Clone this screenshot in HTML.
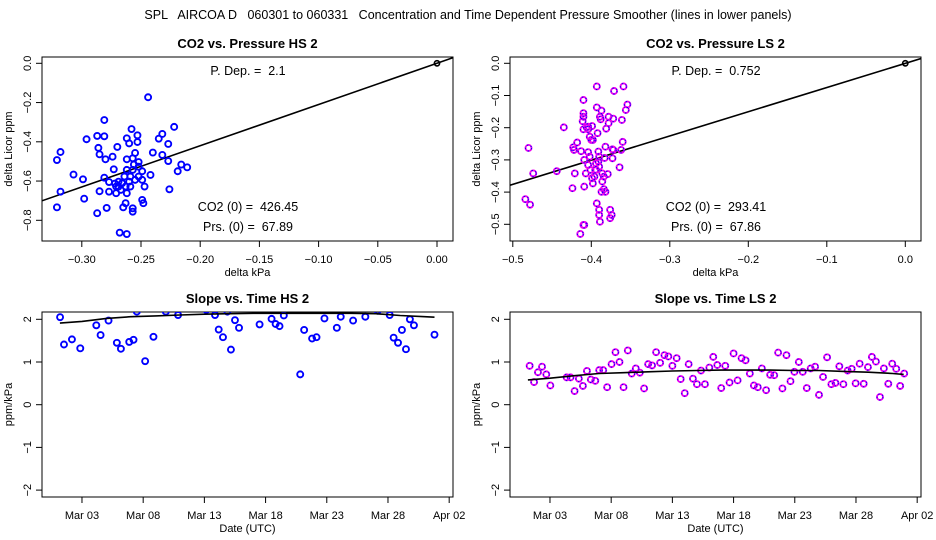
<!DOCTYPE html>
<html><head><meta charset="utf-8"><style>
html,body{margin:0;padding:0;background:#fff}
svg{display:block;font-family:"Liberation Sans",sans-serif}
text{white-space:pre}
</style></head><body>
<svg id="c" width="936" height="540" viewBox="0 0 936 540">
<text x="468" y="19" text-anchor="middle" font-size="12.5" xml:space="preserve">SPL   AIRCOA D   060301 to 060331   Concentration and Time Dependent Pressure Smoother (lines in lower panels)</text>
</svg>
<script>
// ---- data ----
const hsPressX=[-0.321,-0.318,-0.321,-0.318,-0.307,-0.299,-0.298,-0.296,-0.287,-0.286,-0.285,-0.285,-0.287,-0.281,-0.281,-0.280,-0.281,-0.279,-0.277,-0.277,-0.274,-0.273,-0.270,-0.272,-0.271,-0.269,-0.268,-0.262,-0.263,-0.265,-0.262,-0.262,-0.260,-0.258,-0.257,-0.256,-0.255,-0.253,-0.253,-0.252,-0.252,-0.249,-0.249,-0.257,-0.257,-0.248,-0.247,-0.244,-0.240,-0.242,-0.235,-0.232,-0.232,-0.227,-0.227,-0.226,-0.222,-0.219,-0.216,-0.211,-0.263,-0.260,-0.266,-0.269,-0.259,-0.255,-0.264,-0.262,-0.252,-0.259,-0.267,-0.262,-0.271,-0.257,-0.249];
const hsPressY=[-0.493,-0.452,-0.734,-0.654,-0.567,-0.591,-0.690,-0.387,-0.370,-0.431,-0.464,-0.652,-0.764,-0.289,-0.372,-0.489,-0.583,-0.737,-0.654,-0.605,-0.476,-0.540,-0.426,-0.613,-0.662,-0.603,-0.863,-0.870,-0.713,-0.734,-0.489,-0.382,-0.408,-0.335,-0.484,-0.516,-0.457,-0.367,-0.401,-0.503,-0.527,-0.550,-0.696,-0.739,-0.756,-0.713,-0.628,-0.173,-0.455,-0.569,-0.384,-0.360,-0.467,-0.411,-0.498,-0.642,-0.324,-0.550,-0.516,-0.530,-0.628,-0.603,-0.611,-0.628,-0.628,-0.594,-0.577,-0.543,-0.577,-0.577,-0.645,-0.662,-0.628,-0.543,-0.594];
const lsPressX=[-0.484,-0.478,-0.480,-0.474,-0.444,-0.435,-0.423,-0.422,-0.421,-0.424,-0.418,-0.413,-0.414,-0.410,-0.409,-0.410,-0.410,-0.410,-0.411,-0.410,-0.409,-0.409,-0.407,-0.406,-0.404,-0.404,-0.402,-0.400,-0.399,-0.398,-0.404,-0.404,-0.402,-0.401,-0.399,-0.398,-0.396,-0.394,-0.393,-0.393,-0.392,-0.391,-0.390,-0.390,-0.389,-0.388,-0.387,-0.387,-0.386,-0.386,-0.390,-0.390,-0.389,-0.393,-0.384,-0.384,-0.383,-0.382,-0.381,-0.378,-0.378,-0.382,-0.379,-0.376,-0.374,-0.371,-0.373,-0.373,-0.376,-0.372,-0.372,-0.361,-0.360,-0.359,-0.356,-0.364,-0.354,-0.362,-0.395,-0.394,-0.391];
const lsPressY=[-0.422,-0.439,-0.263,-0.342,-0.335,-0.199,-0.261,-0.269,-0.342,-0.388,-0.246,-0.273,-0.530,-0.502,-0.502,-0.114,-0.155,-0.166,-0.180,-0.205,-0.300,-0.383,-0.342,-0.199,-0.205,-0.197,-0.228,-0.238,-0.195,-0.238,-0.276,-0.316,-0.290,-0.331,-0.357,-0.373,-0.352,-0.331,-0.072,-0.137,-0.217,-0.274,-0.290,-0.321,-0.166,-0.174,-0.147,-0.399,-0.342,-0.367,-0.471,-0.455,-0.492,-0.435,-0.352,-0.391,-0.294,-0.259,-0.203,-0.166,-0.186,-0.399,-0.344,-0.455,-0.471,-0.086,-0.295,-0.267,-0.481,-0.172,-0.269,-0.176,-0.244,-0.072,-0.145,-0.323,-0.128,-0.269,-0.331,-0.311,-0.305];
const hsDays=[1.21,1.53,2.18,2.86,4.17,4.52,5.17,5.85,6.18,6.86,7.21,7.48,8.16,8.84,9.85,10.85,13.16,13.87,14.17,14.52,14.88,15.17,15.50,15.83,17.51,18.49,18.82,19.14,19.49,20.83,21.15,21.80,22.16,22.81,23.82,24.14,25.15,26.15,27.16,28.14,28.46,28.82,29.14,29.47,29.79,30.12,31.80];
const hsSlope=[2.05,1.41,1.53,1.32,1.86,1.63,1.97,1.45,1.31,1.47,1.52,2.18,1.02,1.59,2.18,2.10,2.22,2.10,1.76,1.58,2.18,1.29,1.98,1.80,1.88,2.01,1.89,1.84,2.09,0.71,1.75,1.55,1.58,2.02,1.80,2.06,1.97,2.06,2.20,2.10,1.57,1.45,1.75,1.30,2.00,1.86,1.64];
const hsSmoothDays=[1.2,3,5,7,9,11,13,15,17,19,21,23,25,27,29,31,31.8];
const hsSmooth=[1.91,1.95,2.02,2.06,2.08,2.10,2.12,2.13,2.14,2.14,2.14,2.14,2.14,2.13,2.09,2.06,2.05];
const lsDays=[1.34,1.70,2.02,2.35,2.70,3.03,4.36,4.68,5.01,5.36,5.69,6.02,6.34,6.70,7.02,7.35,7.67,8.03,8.35,8.68,9.01,9.36,9.68,10.01,10.34,10.69,11.02,11.34,11.67,12.00,12.35,12.67,13.00,13.35,13.68,14.01,14.33,14.68,15.01,15.34,15.66,16.02,16.34,16.67,16.99,17.32,17.67,18.00,18.33,18.65,18.98,19.33,19.66,19.98,20.31,20.66,20.99,21.32,21.64,21.99,22.32,22.65,22.97,23.33,23.65,23.98,24.30,24.66,24.98,25.31,25.64,25.99,26.32,26.64,26.97,27.32,27.65,27.97,28.30,28.63,28.98,29.30,29.63,29.96,30.28,30.64,30.96,31.29,31.61,31.94];
const lsSlope=[0.91,0.53,0.76,0.89,0.71,0.45,0.64,0.64,0.32,0.61,0.44,0.79,0.59,0.56,0.81,0.81,0.41,0.95,1.23,1.00,0.41,1.27,0.73,0.85,0.75,0.38,0.95,0.92,1.23,0.98,1.16,1.13,0.91,1.09,0.60,0.27,0.95,0.61,0.48,0.80,0.48,0.87,1.12,0.93,0.39,0.91,0.52,1.20,0.57,1.09,1.04,0.73,0.45,0.41,0.85,0.34,0.70,0.69,1.22,0.38,1.16,0.55,0.77,1.00,0.77,0.39,0.85,0.89,0.23,0.65,1.11,0.48,0.51,0.90,0.48,0.80,0.84,0.50,0.96,0.49,0.88,1.12,1.01,0.18,0.85,0.49,0.96,0.84,0.44,0.73];
const lsSmoothDays=[1.2,3,5,7,9,11,13,15,17,19,21,23,25,27,29,31,31.9];
const lsSmooth=[0.58,0.62,0.68,0.73,0.75,0.77,0.79,0.80,0.81,0.81,0.81,0.80,0.80,0.78,0.76,0.73,0.71];
const hsPDep=2.1, lsPDep=0.752;
const hsXTicks=[-0.30,-0.25,-0.20,-0.15,-0.10,-0.05,0.00];
const hsXTickLabels=["−0.30","−0.25","−0.20","−0.15","−0.10","−0.05","0.00"];
const hsYTicks=[0,-0.2,-0.4,-0.6,-0.8];
const hsYTickLabels=["0.0","−0.2","−0.4","−0.6","−0.8"];
const lsXTicks=[-0.5,-0.4,-0.3,-0.2,-0.1,0.0];
const lsXTickLabels=["−0.5","−0.4","−0.3","−0.2","−0.1","0.0"];
const lsYTicks=[0,-0.1,-0.2,-0.3,-0.4,-0.5];
const lsYTickLabels=["0.0","−0.1","−0.2","−0.3","−0.4","−0.5"];
const dateTicks=[3,8,13,18,23,28,33];
const dateTickLabels=["Mar 03","Mar 08","Mar 13","Mar 18","Mar 23","Mar 28","Apr 02"];
const slopeTicks=[2,1,0,-1,-2];
const slopeTickLabels=["2","1","0","−1","−2"];

const NS="http://www.w3.org/2000/svg";
const svg=document.getElementById('c');
function mk(tag,attrs,parent,txt){const e=document.createElementNS(NS,tag);for(const k in attrs)e.setAttribute(k,attrs[k]);if(txt!==undefined)e.textContent=txt;(parent||svg).appendChild(e);return e;}

function panel(o){
  const g=mk('g',{});
  
  
  const L=o.L,R=o.R,T=o.T,B=o.B;
  const clipId=o.name+'-clip';
  const cp=mk('clipPath',{id:clipId},g);mk('rect',{x:L,y:T,width:R-L,height:B-T},cp);
  const t=mk('text',{x:(L+R)/2,y:T-9,'text-anchor':'middle','font-size':'13','font-weight':'bold'},g,o.title);
  
  
  const box=mk('rect',{x:L,y:T,width:R-L,height:B-T,fill:'none',stroke:'#000','stroke-width':1},g);
  
  
  const xa=mk('g',{},g);
  
  
  const x0=o.sx(o.xt[0]),x1=o.sx(o.xt[o.xt.length-1]);
  mk('line',{x1:x0,x2:x1,y1:B,y2:B,stroke:'#000'},xa);
  o.xt.forEach((v,i)=>{const x=o.sx(v);mk('line',{x1:x,x2:x,y1:B,y2:B+6,stroke:'#000'},xa);
    const tl=mk('text',{x:x,y:B+22,'text-anchor':'middle','font-size':'11'},xa,o.xl[i]);
    
    });
  const xt=mk('text',{x:(L+R)/2,y:B+35,'text-anchor':'middle','font-size':'11'},g,o.xtitle);
  
  
  const ya=mk('g',{},g);
  
  
  const y0=o.sy(o.yt[0]),y1=o.sy(o.yt[o.yt.length-1]);
  mk('line',{x1:L,x2:L,y1:y0,y2:y1,stroke:'#000'},ya);
  o.yt.forEach((v,i)=>{const y=o.sy(v);mk('line',{x1:L-6,x2:L,y1:y,y2:y,stroke:'#000'},ya);
    const tl=mk('text',{x:L-14,y:y,'text-anchor':'middle','font-size':'11',transform:`rotate(-90 ${L-14} ${y})`,'dominant-baseline':'middle'},ya,o.yl[i]);
    
    });
  const yt=mk('text',{x:L-30,y:(T+B)/2,'text-anchor':'middle','font-size':'11',transform:`rotate(-90 ${L-30} ${(T+B)/2})`},g,o.ytitle);
  
  
  const pg=mk('g',{'clip-path':`url(#${clipId})`},g);
  return {g,pg};
}
function pts(pg,xs,ys,sx,sy,magenta){
  xs.forEach((v,i)=>{
    const c=mk('circle',{cx:sx(v),cy:sy(ys[i]),r:3,fill:'none',stroke:magenta?'#ee00ee':'#0000ff','stroke-width':1.9},pg);
    
    
    if(magenta){mk('circle',{cx:sx(v),cy:sy(ys[i]),r:3,fill:'none',stroke:'#0000ff','stroke-width':1,'stroke-dasharray':'1.5 2.5'},pg);}
  });
}
function line(pg,xs,ys,sx,sy,name){
  const d=xs.map((v,i)=>(i?'L':'M')+sx(v).toFixed(1)+','+sy(ys[i]).toFixed(1)).join('');
  const p=mk('path',{d:d,fill:'none',stroke:'#000','stroke-width':1.6},pg);
  
  
}
function scatterPanel(off,name,title,xs,ys,pdep,co2,prs,x0px,xppu,yppu,xt,xl,yt,yl,mag){
  const sx=v=>x0px+v*xppu, sy=v=>63.3-v*yppu;
  const P=panel({name,title,L:42+off,R:453+off,T:57,B:241,sx,sy,xt,xl,yt,yl,xtitle:'delta kPa',ytitle:'delta Licor ppm'});
  const xmin=(42+off-x0px)/xppu, xmax=(453+off-x0px)/xppu;
  line(P.pg,[xmin,xmax],[pdep*xmin,pdep*xmax],sx,sy,'fit-line');
  pts(P.pg,xs,ys,sx,sy,mag);
  const z=mk('circle',{cx:sx(0),cy:sy(0),r:2.6,fill:'none',stroke:'#000','stroke-width':1.6},P.pg);
  
  
  const cx=248+off;
  const a=mk('text',{x:cx,y:75,'text-anchor':'middle','font-size':'12.5'},P.g,'P. Dep. =  '+pdep);
  
  
  const b=mk('text',{x:cx,y:211,'text-anchor':'middle','font-size':'12.5'},P.g,'CO2 (0) =  '+co2);
  
  
  const c=mk('text',{x:cx,y:231,'text-anchor':'middle','font-size':'12.5'},P.g,'Prs. (0) =  '+prs);
  
  
}
function slopePanel(off,name,title,ds,vs,sd,sv,mag){
  const sx=d=>57.5+off+(d-1)*12.24, sy=v=>319.3-(v-2)*42.7;
  const P=panel({name,title,L:42+off,R:453+off,T:312,B:497,sx,sy,xt:dateTicks,xl:dateTickLabels,yt:slopeTicks,yl:slopeTickLabels,xtitle:'Date (UTC)',ytitle:'ppm/kPa'});
  pts(P.pg,ds,vs,sx,sy,mag);
  line(P.pg,sd,sv,sx,sy,'smoother-line');
}
scatterPanel(0,'co2-vs-pressure-hs','CO2 vs. Pressure HS 2',hsPressX,hsPressY,hsPDep,'426.45','67.89',437,1184,196.25,hsXTicks,hsXTickLabels,hsYTicks,hsYTickLabels,false);
scatterPanel(468,'co2-vs-pressure-ls','CO2 vs. Pressure LS 2',lsPressX,lsPressY,lsPDep,'293.41','67.86',905.3,785,322,lsXTicks,lsXTickLabels,lsYTicks,lsYTickLabels,true);
slopePanel(0,'slope-vs-time-hs','Slope vs. Time HS 2',hsDays,hsSlope,hsSmoothDays,hsSmooth,false);
slopePanel(468,'slope-vs-time-ls','Slope vs. Time LS 2',lsDays,lsSlope,lsSmoothDays,lsSmooth,true);
</script>
</body></html>
